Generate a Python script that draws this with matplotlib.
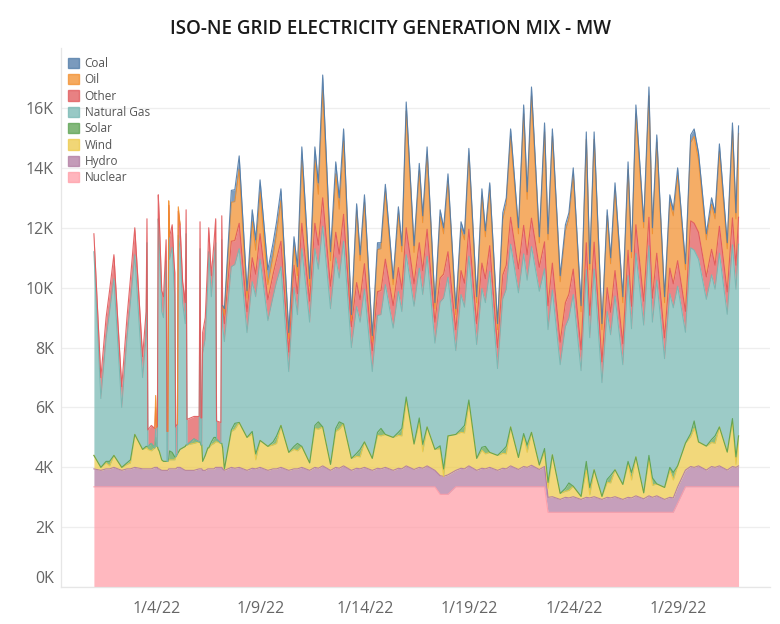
import numpy as np
import pandas as pd
import matplotlib
matplotlib.use("Agg")
import matplotlib.pyplot as plt
from matplotlib.patches import Patch

plt.rcParams['font.family'] = ['Open Sans', 'DejaVu Sans']

# hours since 2022-01-01 00:00 (UTC), sampled around daily troughs / peaks
hours = [0, 8, 14, 18, 23, 32, 38, 42, 47,
         56, 60, 61, 62, 66, 70, 71, 72, 73,
         74, 75, 78, 80, 82, 83, 84, 85, 86, 87, 90, 92, 93, 94, 96, 97,
         99, 102, 105, 106, 107, 115, 121, 122, 123, 124, 125, 128, 131, 132, 135, 138, 140, 141, 146, 147, 148,
         150, 158, 162, 167, 176, 182, 186, 191, 200, 206, 210, 215, 224, 230, 234, 239,
         248, 254, 258, 263, 272, 278, 282, 287, 296, 302, 306, 311, 320, 326, 330, 335,
         344, 350, 354, 359, 368, 374, 378, 383, 392, 398, 402, 407, 416, 422, 426, 431,
         440, 446, 450, 455, 464, 470, 474, 479, 488, 494, 498, 503, 512, 518, 522, 527,
         536, 542, 546, 551, 560, 566, 570, 575, 584, 590, 594, 599, 608, 614, 618, 623,
         632, 638, 642, 647, 656, 662, 666, 671, 680, 686, 690, 695, 704, 710, 714, 719,
         728, 734, 738, 741]

nuclear = [3350, 3350, 3350, 3350, 3350, 3350, 3350, 3350, 3350,
           3350, 3350, 3350, 3350, 3350, 3350, 3350, 3350, 3350,
           3350, 3350, 3350, 3350, 3350, 3350, 3350, 3350, 3350, 3350, 3350, 3350, 3350, 3350, 3350, 3350,
           3350, 3350, 3350, 3350, 3350, 3350, 3350, 3350, 3350, 3350, 3350, 3350, 3350, 3350, 3350, 3350, 3350, 3350, 3350, 3350, 3350,
           3350, 3350, 3350, 3350, 3350, 3350, 3350, 3350, 3350, 3350, 3350, 3350, 3350, 3350, 3350, 3350,
           3350, 3350, 3350, 3350, 3350, 3350, 3350, 3350, 3350, 3350, 3350, 3350, 3350, 3350, 3350, 3350,
           3350, 3350, 3350, 3350, 3350, 3350, 3350, 3350, 3350, 3100, 3100, 3100, 3350, 3350, 3350, 3350,
           3350, 3350, 3350, 3350, 3350, 3350, 3350, 3350, 3350, 3350, 3350, 3350, 3350, 3350, 2500, 2500,
           2500, 2500, 2500, 2500, 2500, 2500, 2500, 2500, 2500, 2500, 2500, 2500, 2500, 2500, 2500, 2500,
           2500, 2500, 2500, 2500, 2500, 2500, 2500, 2800, 3350, 3350, 3350, 3350, 3350, 3350, 3350, 3350,
           3350, 3350, 3350, 3350]

hydro = [600, 550, 600, 600, 650, 550, 600, 600, 650,
         600, 600, 600, 600, 600, 650, 650, 650, 650,
         600, 600, 550, 550, 550, 550, 550, 550, 600, 600, 600, 600, 600, 600, 650, 650,
         650, 600, 550, 550, 550, 550, 600, 600, 600, 600, 550, 550, 600, 600, 600, 600, 650, 650, 650, 650, 600,
         550, 650, 620, 650, 550, 620, 600, 650, 550, 600, 600, 650, 550, 600, 600, 650,
         550, 650, 620, 700, 550, 650, 620, 700, 550, 620, 600, 650, 550, 620, 600, 650,
         550, 620, 600, 700, 580, 650, 620, 700, 550, 620, 600, 650, 550, 620, 600, 700,
         550, 620, 600, 650, 550, 620, 600, 700, 580, 680, 650, 720, 580, 680, 500, 520,
         430, 500, 480, 520, 430, 500, 480, 520, 430, 500, 480, 520, 430, 500, 480, 550,
         450, 550, 500, 550, 430, 500, 480, 550, 560, 680, 650, 700, 560, 680, 650, 700,
         560, 680, 650, 700]

wind = [450, 100, 200, 100, 400, 100, 150, 200, 1100,
        650, 700, 700, 650, 600, 650, 1000, 700, 700,
        650, 600, 350, 300, 300, 300, 300, 300, 300, 300, 300, 300, 300, 400, 450, 500,
        600, 700, 800, 850, 850, 900, 900, 900, 800, 800, 300, 500, 700, 700, 800, 850, 850, 850, 800, 800, 700,
        50, 1200, 1300, 1500, 1100, 1150, 300, 900, 800, 800, 850, 1400, 600, 650, 600, 700,
        250, 1300, 1300, 1300, 200, 1200, 1300, 1400, 400, 400, 400, 850, 400, 1100, 1100, 1100,
        1100, 1100, 1100, 2200, 850, 1500, 550, 1300, 700, 900, 0, 1300, 1200, 1200, 1200, 2100,
        400, 600, 500, 500, 500, 500, 500, 1300, 400, 1000, 500, 1100, 150, 500, 300, 1400,
        200, 200, 250, 350, 100, 900, 100, 900, 100, 500, 500, 900, 500, 1100, 600, 1300,
        200, 1200, 400, 400, 400, 900, 600, 700, 900, 1000, 1300, 800, 800, 800, 800, 1300,
        600, 1500, 100, 1000]

solar = [0, 0, 50, 150, 0, 0, 50, 100, 0,
         0, 50, 50, 100, 250, 0, 0, 0, 0,
         0, 0, 0, 0, 0, 0, 0, 0, 50, 300, 250, 150, 100, 0, 0, 0,
         0, 0, 0, 0, 0, 150, 0, 0, 0, 0, 0, 0, 0, 0, 100, 200, 150, 100, 0, 0, 0,
         0, 50, 200, 0, 0, 80, 200, 0, 0, 100, 250, 0, 0, 100, 250, 0,
         0, 100, 250, 0, 0, 100, 250, 0, 0, 100, 250, 0, 0, 100, 250, 0,
         0, 100, 250, 100, 0, 150, 250, 0, 0, 100, 250, 0, 0, 100, 250, 100,
         0, 100, 250, 0, 0, 100, 250, 0, 0, 100, 250, 0, 0, 100, 200, 0,
         0, 100, 250, 0, 0, 300, 250, 0, 0, 100, 250, 0, 0, 100, 250, 0,
         0, 150, 250, 0, 0, 100, 250, 0, 0, 100, 250, 0, 0, 100, 250, 0,
         0, 100, 250, 0]

gas = [6800, 2300, 4100, 5000, 5900, 2000, 4150, 5250, 6000,
       2400, 3700, 6800, 0, 0, 0, 300, 0, 0,
       7700, 7050, 4950, 4800, 6100, 6700, 0, 0, 7650, 6400, 6850, 5750, 5400, 0, 0, 7250,
       6700, 4850, 4100, 7050, 0, 0, 0, 6450, 0, 0, 3600, 3900, 5550, 6550, 4850, 5800, 6500, 0, 0, 6800, 4050,
       4250, 5450, 5300, 5800, 3500, 5000, 5250, 6050, 4200, 4850, 5150, 5300, 2700, 5300, 4300, 6600,
       4700, 5900, 5100, 6700, 5200, 5700, 4800, 6100, 3700, 4900, 4250, 5100, 2900, 3900, 3800, 5000,
       3650, 4700, 3900, 4750, 4600, 5000, 5000, 5700, 3550, 4800, 5700, 5300, 2800, 4500, 3950, 4800,
       3800, 5300, 4800, 6050, 2900, 5050, 5250, 6100, 5500, 6000, 5500, 6200, 5800, 6000, 5100, 5500,
       4300, 5400, 5500, 6400, 4200, 6400, 5000, 6700, 3800, 5600, 4700, 5800, 4000, 6200, 4800, 6800,
       5600, 7000, 5200, 6800, 4300, 5800, 5500, 6000, 3700, 6200, 5700, 6100, 4900, 5500, 4900, 5800,
       4600, 5800, 5600, 6400]

other = [600, 700, 700, 700, 800, 700, 700, 800, 900,
         700, 800, 800, 550, 600, 650, 700, 650, 650,
         800, 800, 700, 700, 700, 700, 1000, 1000, 800, 750, 750, 750, 750, 1000, 1000, 800,
         800, 700, 700, 800, 850, 750, 850, 900, 900, 900, 700, 700, 800, 800, 700, 700, 800, 600, 700, 800, 700,
         600, 850, 800, 850, 700, 800, 750, 850, 700, 750, 750, 850, 650, 750, 700, 850,
         700, 850, 800, 950, 750, 850, 800, 900, 700, 800, 750, 850, 700, 800, 800, 850,
         750, 800, 750, 900, 750, 850, 800, 900, 700, 800, 800, 850, 700, 800, 800, 900,
         700, 850, 800, 850, 700, 800, 800, 900, 800, 950, 850, 950, 800, 900, 800, 900,
         750, 800, 800, 850, 700, 900, 750, 900, 700, 800, 750, 850, 700, 850, 750, 950,
         800, 950, 800, 900, 700, 850, 800, 850, 700, 900, 900, 900, 750, 850, 800, 900,
         750, 900, 800, 900]

# None = not reported in the feed for that hour
oil = [None, None, None, None, None, None, None, None, None,
       None, None, None, None, None, 0, 400, 0, None,
       None, None, None, None, None, None, None, 0, 150, 0, None, None, None, None, 0, 150,
       0, None, None, None, None, None, None, None, None, None, None, None, None, None, None, None, None, None, None, None, 0,
       300, 1300, 1300, 1800, 450, 1200, 800, 1400, 500, 600, 850, 1350, 450, 650, 600, 2100,
       500, 2100, 1700, 3600, 850, 1950, 1500, 2450, 200, 2400, 1300, 2050, 300, 1400, 1400, 2250,
       700, 1800, 1250, 3900, 1050, 2400, 1600, 2500, 450, 2050, 1350, 2350, 500, 1400, 1450, 2450,
       700, 2250, 1400, 1850, 600, 1850, 2050, 2700, 1170, 3720, 1850, 4080, 820, 3670, 2200, 4230,
       2020, 2400, 2520, 3130, 1270, 3450, 1520, 3430, 1070, 2400, 1620, 2680, 1370, 2700, 1620, 3700,
       2450, 4050, 2150, 3700, 1170, 2200, 2270, 2850, 1390, 2620, 2900, 2400, 1240, 1500, 1550, 2500,
       1440, 2920, 1550, 2800]

coal = [None, None, None, None, None, None, None, None, None,
        None, None, None, None, None, None, None, None, None,
        None, None, None, None, None, None, None, None, None, None, None, None, None, None, None, None,
        None, None, None, None, None, None, None, None, None, None, None, None, None, None, None, None, None, None, None, None, 0,
        200, 400, 400, 450, 250, 400, 350, 400, 500, 450, 400, 400, 200, 300, 300, 450,
        250, 450, 380, 500, 300, 400, 380, 400, 200, 230, 200, 250, 200, 230, 200, 250,
        200, 230, 200, 300, 220, 250, 230, 250, 200, 230, 200, 250, 200, 230, 200, 250,
        200, 230, 200, 250, 200, 230, 200, 250, 200, 300, 250, 300, 200, 300, 200, 250,
        200, 200, 200, 250, 200, 250, 200, 250, 200, 200, 200, 250, 200, 250, 200, 300,
        200, 300, 200, 250, 200, 250, 200, 250, 200, 250, 250, 250, 200, 220, 200, 250,
        200, 250, 200, 250]

start = pd.Timestamp("2022-01-01")
times = start + pd.to_timedelta(hours, unit="h")

# bottom to top
layers = [
    ("Nuclear", nuclear, "#FF9DA7"),
    ("Hydro", hydro, "#B07AA1"),
    ("Wind", wind, "#EDC948"),
    ("Solar", solar, "#59A14F"),
    ("Natural Gas", gas, "#76B7B2"),
    ("Other", other, "#E15759"),
    ("Oil", oil, "#F28E2B"),
    ("Coal", coal, "#4E79A7"),
]

fig = plt.figure(figsize=(7.8, 6.24), dpi=100)
ax = fig.add_axes([0.078, 0.059, 0.909, 0.864])

base = np.zeros(len(hours))
edges = []
for name, vals, col in layers:
    v = np.array([np.nan if x is None else x for x in vals], dtype=float)
    top = base + np.nan_to_num(v)
    ax.fill_between(times, base, top, color=col, alpha=0.72, lw=0, zorder=2)
    edges.append((np.where(np.isnan(v), np.nan, top), col))
    base = top
for line, col in edges:
    ax.plot(times, line, color=col, lw=0.8, alpha=0.9, zorder=3)

ax.set_xlim(start - pd.Timedelta(hours=38), start + pd.Timedelta(hours=777))
ax.set_ylim(0, 18000)

yt = np.arange(0, 16001, 2000)
ax.set_yticks(yt)
ax.set_yticklabels([f"{int(v / 1000)}K" for v in yt])
ax.get_yticklabels()[0].set_va('bottom')

xt = pd.date_range("2022-01-04", periods=6, freq="5D")
ax.set_xticks(xt)
ax.set_xticklabels([f"{d.month}/{d.day}/{d:%y}" for d in xt])

ax.tick_params(axis='both', length=0, labelsize=11.5, labelcolor='#666666')
ax.tick_params(axis='x', pad=10)
ax.tick_params(axis='y', pad=5)
ax.grid(axis='y', color='#EEEEEE', lw=0.9, zorder=0)
ax.set_axisbelow(True)
for s in ['top', 'right']:
    ax.spines[s].set_visible(False)
for s in ['left', 'bottom']:
    ax.spines[s].set_color('#E6E6E6')
    ax.spines[s].set_linewidth(0.9)

handles = [Patch(facecolor=col, edgecolor=col, alpha=0.75) for _, _, col in layers[::-1]]
labels = [name for name, _, _ in layers[::-1]]
ax.legend(handles, labels, loc='upper left', bbox_to_anchor=(68 / 780, 1 - 57 / 624),
          bbox_transform=fig.transFigure, frameon=False, fontsize=8.5,
          handlelength=0.95, handleheight=0.95, handletextpad=0.45,
          labelspacing=0.28, borderpad=0, borderaxespad=0, labelcolor='#555555')

fig.text(0.5, 0.954, "ISO-NE GRID ELECTRICITY GENERATION MIX - MW", ha='center', va='center',
         fontsize=13.5, fontweight='semibold', color='#1A1A1A')

fig.savefig("out.png", dpi=100)
